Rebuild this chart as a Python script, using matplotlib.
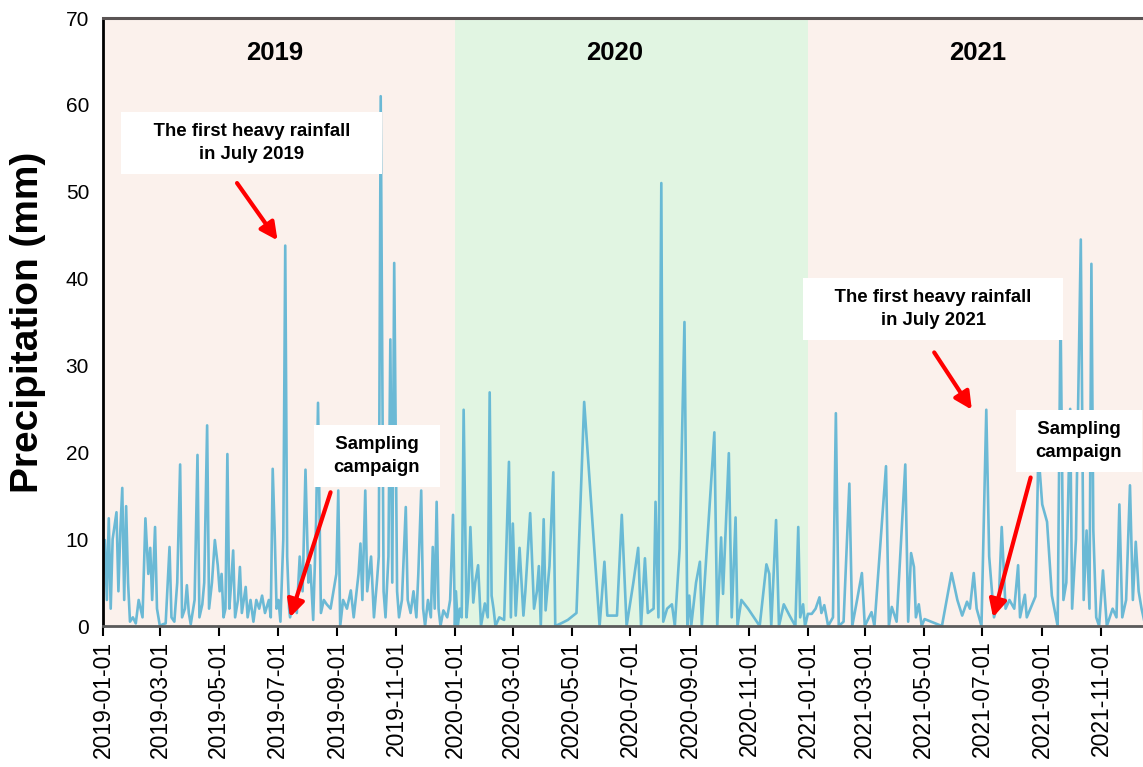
import datetime as dt

import matplotlib
matplotlib.use("Agg")
import matplotlib.dates as mdates
import matplotlib.pyplot as plt

plt.rcParams["font.family"] = ["Liberation Sans", "DejaVu Sans"]

START = dt.date(2019, 1, 1)

# daily precipitation record, day offset from 2019-01-01 -> mm
day = [
    0, 2, 4, 6, 8, 10, 14, 16, 18, 20, 22, 24, 26, 28, 31, 34, 37, 41, 44, 47,
    49, 51, 54, 56, 59, 62, 65, 69, 71, 74, 77, 80, 82, 85, 87, 89, 91, 95, 98, 100,
    103, 105, 108, 110, 113, 116, 119, 121, 123, 125, 127, 129, 131, 133, 135, 137, 140, 142, 144, 148,
    150, 153, 156, 159, 162, 165, 168, 172, 174, 176, 178, 180, 182, 184, 187, 189, 191, 193, 194, 198,
    201, 204, 207, 210, 213, 215, 218, 221, 223, 226, 229, 232, 236, 239, 242, 244, 246, 249, 253, 257,
    260, 263, 265, 267, 269, 272, 274, 278, 281, 284, 286, 288, 291, 293, 296, 298, 300, 302, 305, 307,
    310, 314, 316, 319, 322, 325, 327, 330, 332, 334, 337, 340, 342, 344, 346, 348, 350, 353, 357, 360,
    363, 365,
    366, 368, 370, 372, 374, 377, 379, 381, 384, 386, 389, 392, 396, 399, 401, 403, 405, 407, 411, 416,
    421, 423, 425, 428, 432, 436, 438, 443, 447, 450, 452, 454, 457, 459, 463, 467, 469, 475, 482, 491,
    499, 515, 520, 523, 533, 538, 543, 550, 555, 558, 562, 565, 571, 573, 576, 579, 581, 585, 590, 593,
    598, 603, 606, 608, 610, 615, 619, 621, 634, 637, 641, 643, 649, 652, 656, 658, 662, 669, 681, 686,
    688, 691, 693, 698, 701, 706, 712, 718, 721, 723, 726, 728, 731,
    735, 739, 743, 745, 748, 752, 757, 760, 763, 768, 774, 777, 782, 787, 790, 797, 800, 812, 815, 818,
    823, 832, 835, 838, 841, 843, 846, 849, 852, 870, 880, 886, 891, 896, 899, 903, 906, 911, 916, 919,
    924, 929, 932, 936, 940, 945, 949, 951, 956, 958, 967, 970, 974, 979, 984, 990, 993, 996, 999, 1003,
    1005, 1009, 1014, 1017, 1020, 1023, 1025, 1027, 1030, 1033, 1037, 1041, 1047, 1051, 1054, 1057, 1061, 1065, 1068, 1071,
    1074, 1077, 1080,
]
rain = [
    6, 9.9, 3, 12.4, 2, 10, 13.1, 4, 11, 15.9, 3, 13.8, 5, 0.5, 1, 0.3, 3, 1, 12.4, 6,
    9, 3, 11.4, 2, 0, 0.2, 0.3, 9.1, 1, 0.5, 5, 18.6, 1, 2, 4.7, 1.5, 0.2, 3, 19.7, 1,
    2.5, 5, 23.1, 2, 5, 9.9, 7, 4, 6, 1, 2, 19.8, 2, 5, 8.7, 1, 3, 6.8, 1.5, 4.5,
    1, 3, 0.5, 3, 2, 3.5, 1.5, 3, 1, 18.1, 11, 2, 3, 0.5, 10, 43.8, 8, 2, 1.0, 3,
    1.5, 8, 4, 18.0, 5, 7, 0.7, 12, 25.7, 1.5, 3, 2.5, 2, 4, 6, 15.6, 0, 3, 2, 4.1,
    1, 4, 6, 9.5, 3, 15.6, 4, 8, 1, 5, 8, 61, 4, 1, 8, 33, 5, 41.8, 4, 1,
    3, 13.7, 3, 1.5, 4, 1, 6, 15.6, 2, 0, 3, 1, 9.1, 2, 14.3, 2, 0, 1.8, 1, 3,
    12.8, 0,
    4, 0, 2, 1, 24.9, 1, 4, 11.4, 2.7, 5, 7.0, 0, 2.6, 1, 26.9, 3.5, 2, 0, 1, 0.7,
    18.9, 1, 11.8, 1.2, 9.0, 1.2, 4, 13.0, 2, 4, 6.9, 0, 12.3, 1.8, 6.9, 17.7, 0, 0.3, 0.7, 1.5,
    25.8, 0, 7.4, 1.2, 1.2, 12.8, 0, 5, 9.0, 0, 7.8, 1.5, 2, 14.3, 1, 51, 0.5, 2, 2.5, 0,
    8.9, 35, 0, 3.5, 0, 5, 7.4, 0, 22.3, 0, 10.2, 3.7, 19.9, 1, 12.5, 0, 3, 2, 0, 5,
    7.1, 6, 0, 12.2, 0, 2.5, 1.2, 0, 11.4, 1, 2.5, 0, 1.4,
    1.4, 2, 3.3, 1.5, 2.4, 0, 1, 24.5, 0, 0.5, 16.4, 0, 3.0, 6.1, 0, 1.6, 0, 18.4, 0, 2.2,
    0.5, 18.6, 0.5, 8.4, 6.8, 1, 2.5, 0, 0.8, 0, 6.1, 3, 1.2, 2.8, 2, 6.1, 2, 0, 24.9, 8,
    1.0, 3, 11.4, 2, 3, 2, 7, 1, 3.6, 1, 3.4, 20, 14, 12, 3.5, 0, 36.1, 3, 5, 25,
    2, 10, 44.5, 3, 11, 2, 41.7, 11, 1, 0, 6.4, 0, 2, 1, 14, 1, 3, 16.2, 3, 9.7,
    4, 2, 0.5,
]

years = ["2019", "2020", "2021"]
year_shade = ["#fbf1ec", "#e1f5e2", "#fbf1ec"]
year_label_day = [178, 531, 907]

dates = [START + dt.timedelta(days=d) for d in day]
x_end = START + dt.timedelta(days=1081)


def d(n):
    return START + dt.timedelta(days=n)


fig = plt.figure(figsize=(11.43, 7.67), dpi=100)
ax = fig.add_axes([0.0901, 0.1838, 0.912, 0.7927])

# year bands and labels
for yr, col, lab_day in zip(years, year_shade, year_label_day):
    y0 = dt.date(int(yr), 1, 1)
    y1 = min(dt.date(int(yr) + 1, 1, 1), x_end)
    ax.axvspan(y0, y1, color=col, zorder=0, lw=0)
    ax.text(d(lab_day), 66.0, yr, ha="center", va="center",
            fontsize=18.5, fontweight="bold")

ax.plot(dates, rain, color="#5fb5d4", lw=1.9, alpha=0.92, zorder=2)

box = dict(boxstyle="square,pad=0.6", fc="white", ec="none")
arrow = dict(arrowstyle="-|>", color="red", lw=3, mutation_scale=26,
             shrinkA=0, shrinkB=0)
note = dict(ha="center", va="center", fontsize=13.4, fontweight="bold",
            linespacing=1.45, bbox=box, zorder=4)

# heavy rainfall notes
ax.text(d(154), 55.6, "    The first heavy rainfall    \nin July 2019", **note)
ax.annotate("", xy=(d(181), 44.4), xytext=(d(139), 51.0), arrowprops=arrow, zorder=5)
ax.text(d(861), 36.5, "    The first heavy rainfall    \nin July 2021", **note)
ax.annotate("", xy=(d(901), 24.9), xytext=(d(862), 31.5), arrowprops=arrow, zorder=5)

# sampling campaigns
ax.text(d(284), 19.6, "  Sampling  \ncampaign", **note)
ax.annotate("", xy=(d(194), 1.0), xytext=(d(236), 15.4), arrowprops=arrow, zorder=5)
ax.text(d(1012), 21.3, "  Sampling  \ncampaign", **note)
ax.annotate("", xy=(d(923), 1.0), xytext=(d(962), 17.1), arrowprops=arrow, zorder=5)

ax.set_xlim(START, x_end)
ax.set_ylim(0, 70)
ax.set_yticks(range(0, 71, 10))
ax.xaxis.set_major_locator(mdates.MonthLocator(bymonth=[1, 3, 5, 7, 9, 11]))
ax.xaxis.set_major_formatter(mdates.DateFormatter("%Y-%m-%d"))
plt.setp(ax.get_xticklabels(), rotation=90)
ax.tick_params(axis="x", labelsize=16.5, length=7, width=1.5, direction="out")
ax.tick_params(axis="y", labelsize=15, length=0, pad=10)
ax.set_ylabel("Precipitation (mm)", fontsize=28, fontweight="bold", labelpad=14)

ax.spines["left"].set_linewidth(2)
ax.spines["left"].set_color("black")
ax.spines["bottom"].set_linewidth(2)
ax.spines["bottom"].set_color("#5a5a5a")
ax.spines["top"].set_linewidth(2.2)
ax.spines["top"].set_color("#5a5454")
ax.spines["right"].set_visible(False)

fig.savefig("out.png", dpi=100)
